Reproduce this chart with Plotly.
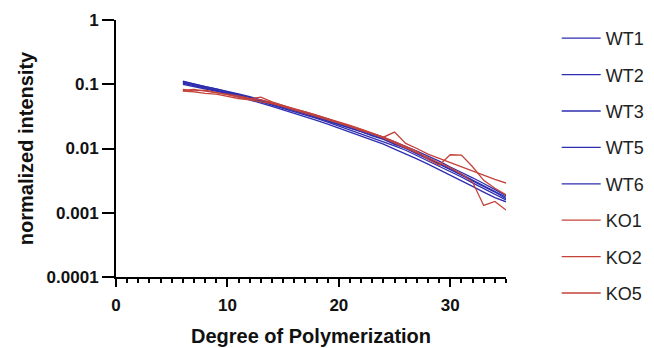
import plotly.graph_objects as go

dp = list(range(6, 36))

WT1 = [0.110, 0.101, 0.0930, 0.0860, 0.0785, 0.0710, 0.0640, 0.0572, 0.0510, 0.0455,
       0.0406, 0.0362, 0.0320, 0.0283, 0.0248, 0.0222, 0.0194, 0.0170, 0.0149, 0.0127,
       0.0109, 0.00910, 0.00760, 0.00635, 0.00515, 0.00430, 0.00350, 0.00285, 0.00230, 0.00185]
WT2 = [0.104, 0.0950, 0.0880, 0.0810, 0.0740, 0.0665, 0.0600, 0.0535, 0.0475, 0.0423,
       0.0376, 0.0335, 0.0294, 0.0258, 0.0224, 0.0199, 0.0173, 0.0150, 0.0130, 0.0110,
       0.00940, 0.00780, 0.00645, 0.00535, 0.00435, 0.00360, 0.00292, 0.00237, 0.00192, 0.00158]
WT3 = [0.100, 0.0920, 0.0850, 0.0785, 0.0715, 0.0640, 0.0575, 0.0510, 0.0452, 0.0400,
       0.0355, 0.0314, 0.0275, 0.0240, 0.0208, 0.0183, 0.0158, 0.0136, 0.0117, 0.0098,
       0.00830, 0.00690, 0.00570, 0.00470, 0.00380, 0.00315, 0.00258, 0.00210, 0.00172, 0.00148]
WT5 = [0.112, 0.100, 0.0915, 0.0845, 0.0765, 0.0695, 0.0625, 0.0560, 0.0500, 0.0440,
       0.0393, 0.0352, 0.0310, 0.0272, 0.0238, 0.0212, 0.0184, 0.0161, 0.0141, 0.0119,
       0.0102, 0.00850, 0.00705, 0.00590, 0.00480, 0.00398, 0.00325, 0.00265, 0.00215, 0.00175]
WT6 = [0.107, 0.0980, 0.0900, 0.0830, 0.0760, 0.0680, 0.0620, 0.0548, 0.0492, 0.0435,
       0.0390, 0.0345, 0.0306, 0.0268, 0.0235, 0.0208, 0.0183, 0.0157, 0.0139, 0.0116,
       0.0101, 0.00825, 0.00695, 0.00570, 0.00470, 0.00385, 0.00318, 0.00255, 0.00210, 0.00165]
KO1 = [0.080, 0.083, 0.078, 0.074, 0.070, 0.066, 0.060, 0.057, 0.052, 0.046,
       0.041, 0.037, 0.033, 0.029, 0.0255, 0.0225, 0.0198, 0.0172, 0.0150, 0.0128,
       0.0108, 0.0090, 0.0068, 0.0055, 0.0080, 0.0079, 0.0052, 0.0032, 0.0024, 0.0019]
KO2 = [0.083, 0.079, 0.081, 0.074, 0.068, 0.063, 0.059, 0.063, 0.053, 0.046,
       0.041, 0.037, 0.033, 0.029, 0.026, 0.023, 0.020, 0.0175, 0.0150, 0.0180,
       0.0120, 0.0100, 0.0082, 0.0070, 0.0060, 0.0052, 0.0045, 0.0038, 0.0033, 0.0029]
KO5 = [0.078, 0.076, 0.072, 0.070, 0.065, 0.060, 0.057, 0.054, 0.050, 0.045,
       0.040, 0.036, 0.032, 0.028, 0.025, 0.022, 0.019, 0.017, 0.0145, 0.0122,
       0.0104, 0.0087, 0.0072, 0.0060, 0.0050, 0.0040, 0.0030, 0.0013, 0.0015, 0.0011]

series = [("WT1", WT1), ("WT2", WT2), ("WT3", WT3), ("WT5", WT5), ("WT6", WT6),
          ("KO1", KO1), ("KO2", KO2), ("KO5", KO5)]
wt_color = "#2e2eb0"
ko_color = "#c4423a"

y_ticks = [0.0001, 0.001, 0.01, 0.1, 1]
y_ticktext = ["0.0001", "0.001", "0.01", "0.1", "1"]
x_ticks = [0, 10, 20, 30]

FONT = "Liberation Sans, Arial, sans-serif"

fig = go.Figure()
for name, vals in series:
    fig.add_trace(go.Scatter(
        x=dp, y=vals, mode="lines", name=name, legendgroup=name,
        line=dict(color=wt_color if name.startswith("WT") else ko_color, width=1.3),
    ))

# page body has an 8px default margin, so the figure is drawn 8px smaller
fig.update_layout(
    width=646, height=340,
    margin=dict(l=108, r=148, t=12, b=71, autoexpand=False),
    paper_bgcolor="white", plot_bgcolor="white",
    font=dict(family=FONT, color="#111"),
    legend=dict(x=1.13, y=1.0, xanchor="left", yanchor="top", maxheight=335,
                font=dict(size=18, color="#222"), tracegroupgap=10, itemwidth=39,
                bgcolor="rgba(0,0,0,0)"),
)
fig.update_xaxes(
    range=[0, 35], tickvals=x_ticks, ticks="outside", ticklen=8, tickwidth=2,
    tickcolor="black", showline=True, linecolor="black", linewidth=2,
    showgrid=False, zeroline=False, ticklabelstandoff=4,
    tickfont=dict(size=17, family=FONT, weight="bold"),
    minor=dict(dtick=1, ticks="outside", ticklen=4, tickwidth=1.5, tickcolor="black", showgrid=False),
    title=dict(text="<b>Degree of Polymerization</b>", font=dict(size=20), standoff=15),
)
fig.update_yaxes(
    type="log", range=[-4, 0], tickvals=y_ticks, ticktext=y_ticktext,
    ticks="outside", ticklen=12, tickwidth=2, tickcolor="black",
    showline=True, linecolor="black", linewidth=2, showgrid=False, zeroline=False,
    tickfont=dict(size=17, family=FONT, weight="bold"),
    title=dict(text="<b>normalized intensity</b>", font=dict(size=20), standoff=8),
)

fig.write_html("out.html")
